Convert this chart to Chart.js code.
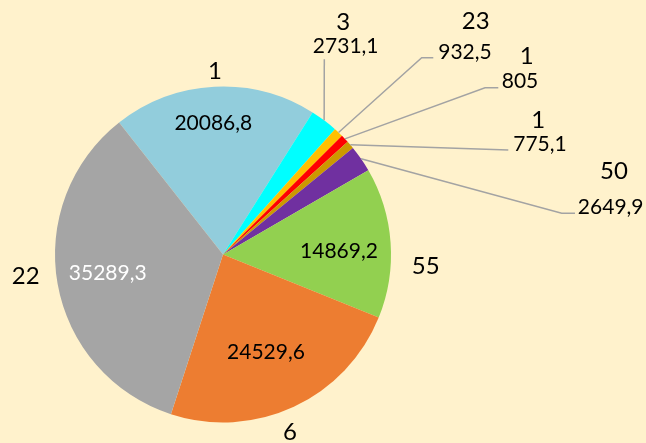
<!DOCTYPE html>
<html>
<head>
<meta charset="utf-8">
<script src="https://cdn.jsdelivr.net/npm/chart.js@4"></script>
<style>
  html, body { margin: 0; padding: 0; background: #FFF2CC; }
  #wrap { width: 646px; height: 443px; }
</style>
</head>
<body>
<div id="wrap"><canvas id="c" width="646" height="443"></canvas></div>
<script>
// ---- data ----
const categories = ['1', '3', '23', '1', '1', '50', '55', '6', '22'];
const values = [20086.8, 2731.1, 932.5, 805, 775.1, 2649.9, 14869.2, 24529.6, 35289.3];
const sliceColors = ['#92CDDC', '#00FFFF', '#FFC000', '#FF0000', '#CC9900', '#7030A0', '#92D050', '#ED7D31', '#A5A5A5'];

// ---- label layout (text positions relative to pie centre, px) ----
const valueOffsets = [[-9.7, -131.8], [122.7, -209.2], [242, -203.2], [297, -173.5], [317, -111.2],
                      [387.7, -47.8], [116, -3.8], [43, 97.2], [-115.3, 17.8]];
const catOffsets = [[-8, -184.5], [120.3, -232.8], [252.7, -234], [303.7, -199.5], [315.3, -135.5],
                    [391, -83.8], [202.7, 11], [67, 177.2], [-197.3, 21.2]];
const valueColors = ['#000', '#000', '#000', '#000', '#000', '#000', '#000', '#000', '#FFF'];
// leader line bends/ends, relative to pie centre (start is the slice's outer edge)
const leaders = [null, [[101.3, -195.2]], [[198.7, -196.8], [210.3, -196.8]],
                 [[262, -166.8], [275.3, -166.8]], [[285.3, -104.5]],
                 [[338.7, -41.2], [352, -41.2]], null, null, null];

const fmt = v => String(v).replace('.', ',');

const labelPlugin = {
  id: 'labels',
  afterDatasetsDraw(chart) {
    const ctx = chart.ctx;
    const meta = chart.getDatasetMeta(0);
    ctx.save();
    meta.data.forEach((arc, i) => {
      const p = arc.getProps(['x', 'y', 'startAngle', 'endAngle', 'outerRadius'], true);
      const cx = p.x, cy = p.y;
      // leader lines
      if (leaders[i]) {
        const mid = (p.startAngle + p.endAngle) / 2;
        ctx.beginPath();
        ctx.strokeStyle = '#A3A3A3';
        ctx.lineWidth = 1.5;
        ctx.moveTo(cx + Math.cos(mid) * p.outerRadius, cy + Math.sin(mid) * p.outerRadius);
        leaders[i].forEach(pt => ctx.lineTo(cx + pt[0], cy + pt[1]));
        ctx.stroke();
      }
      ctx.textAlign = 'center';
      ctx.textBaseline = 'alphabetic';
      // value label
      let fs = 21;
      ctx.font = fs + 'px Lato, "Open Sans", sans-serif';
      ctx.fillStyle = valueColors[i];
      ctx.fillText(fmt(values[i]), cx + valueOffsets[i][0], cy + valueOffsets[i][1] + 0.355 * fs);
      // category label
      fs = 24;
      ctx.font = fs + 'px Lato, "Open Sans", sans-serif';
      ctx.fillStyle = '#000';
      ctx.fillText(categories[i], cx + catOffsets[i][0], cy + catOffsets[i][1] + 0.355 * fs);
    });
    ctx.restore();
  }
};

new Chart(document.getElementById('c'), {
  type: 'pie',
  data: {
    labels: categories,
    datasets: [{
      data: values,
      backgroundColor: sliceColors,
      borderWidth: 0,
      hoverOffset: 0
    }]
  },
  options: {
    responsive: false,
    animation: false,
    rotation: -38.2,
    layout: { padding: { top: 86.5, bottom: 20.5, left: 55, right: 255 } },
    plugins: {
      legend: { display: false },
      tooltip: { enabled: false },
      title: { display: false }
    }
  },
  plugins: [labelPlugin]
});
</script>
</body>
</html>
